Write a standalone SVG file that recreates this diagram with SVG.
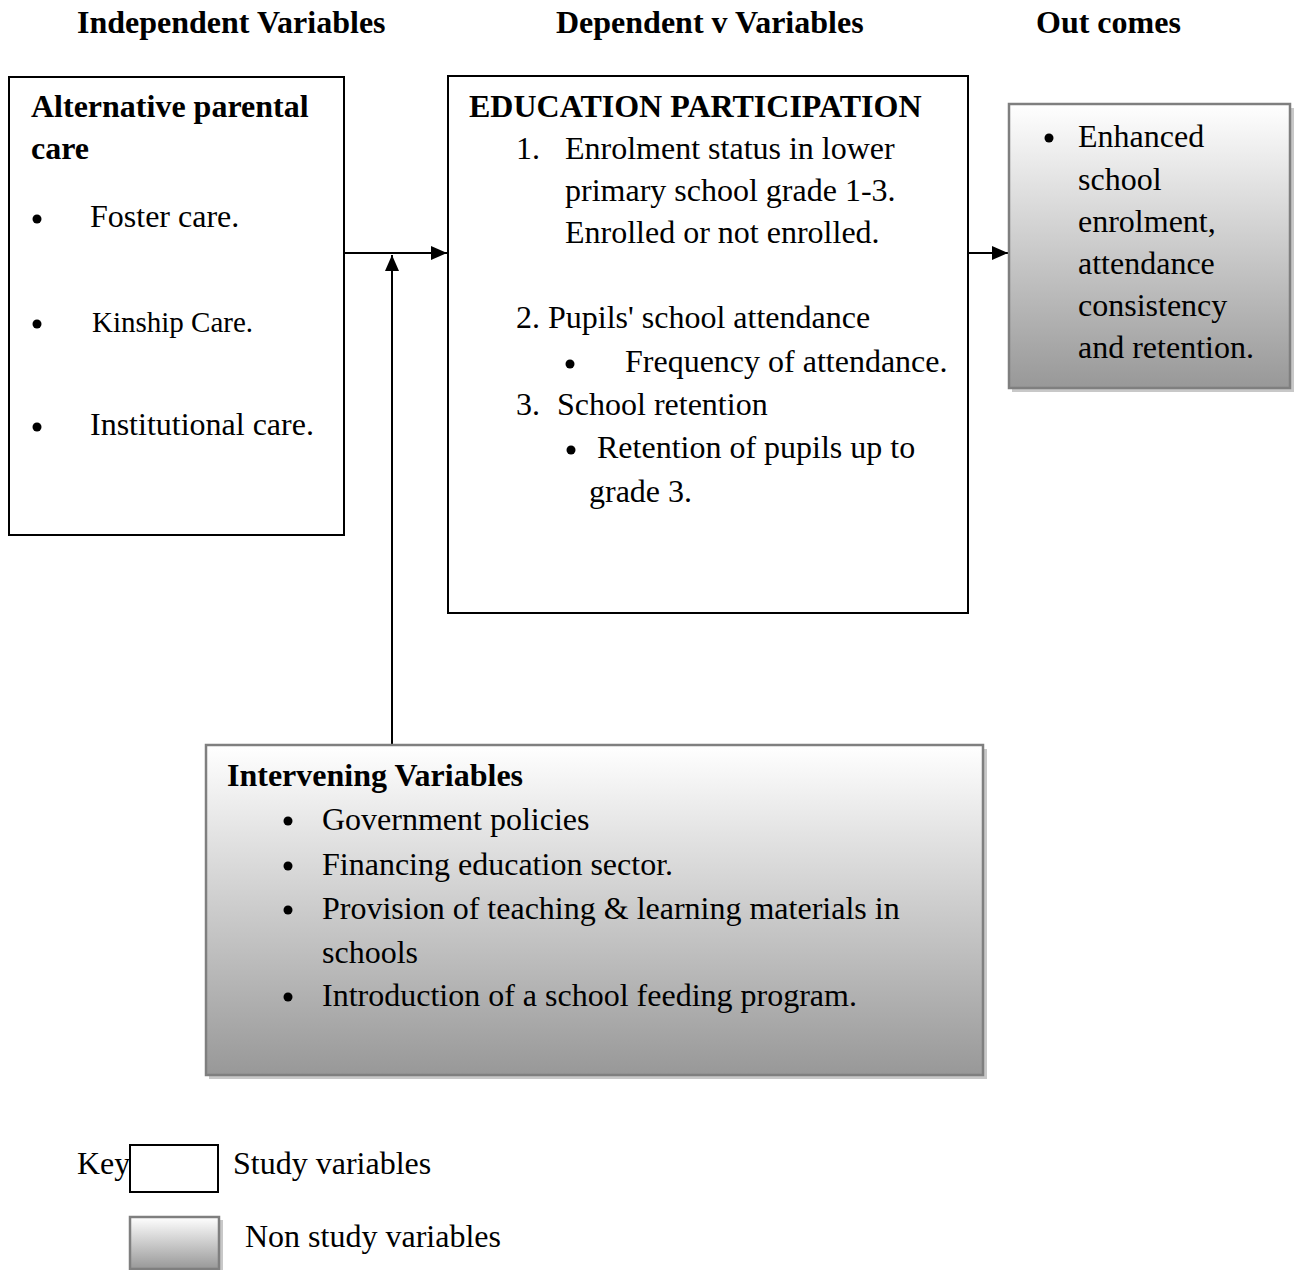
<svg xmlns="http://www.w3.org/2000/svg" width="1296" height="1270" viewBox="0 0 1296 1270">
<style>
text{font-family:"Liberation Serif","Times New Roman",serif;font-size:32px;fill:#000}
.b{font-weight:bold}
.k{font-size:29px}
.study{fill:#fff;stroke:#000;stroke-width:2}
.non{fill:url(#g);stroke:#7f7f7f;stroke-width:2.5}
.sh{fill:#c8c8c8}
.ln{stroke:#000;stroke-width:2;fill:none}
.dot{fill:#000}
</style>
<defs>
<linearGradient id="g" x1="0" y1="0" x2="0" y2="1">
<stop offset="0" stop-color="#ffffff"/>
<stop offset="1" stop-color="#989898"/>
</linearGradient>
<marker id="ah" viewBox="0 0 16 14" refX="16" refY="7" markerWidth="16" markerHeight="14" markerUnits="userSpaceOnUse" orient="auto">
<path d="M0,0 L16,7 L0,14 Z" fill="#000"/>
</marker>
</defs>

<g id="headers">
<text class="b" x="77" y="33">Independent Variables</text>
<text class="b" x="556" y="33">Dependent v Variables</text>
<text class="b" x="1036" y="33">Out comes</text>
</g>

<g id="connectors">
<line class="ln" x1="345" y1="253" x2="447" y2="253" marker-end="url(#ah)"/>
<line class="ln" x1="392" y1="745" x2="392" y2="255" marker-end="url(#ah)"/>
<line class="ln" x1="968" y1="253" x2="1008" y2="253" marker-end="url(#ah)"/>
</g>

<g id="independent">
<rect class="study" x="9" y="77" width="335" height="458"/>
<text class="b" x="31" y="117">Alternative parental</text>
<text class="b" x="31" y="159">care</text>
<circle class="dot" cx="37" cy="219" r="4.5"/>
<text x="90" y="227">Foster care.</text>
<circle class="dot" cx="37" cy="324" r="4.5"/>
<text class="k" x="92" y="332">Kinship Care.</text>
<circle class="dot" cx="37" cy="427" r="4.5"/>
<text x="90" y="435">Institutional care.</text>
</g>

<g id="dependent">
<rect class="study" x="448" y="76" width="520" height="537"/>
<text class="b" x="469" y="117">EDUCATION PARTICIPATION</text>
<text x="516" y="159">1.</text>
<text x="565" y="159">Enrolment status in lower</text>
<text x="565" y="201">primary school grade 1-3.</text>
<text x="565" y="243">Enrolled or not enrolled.</text>
<text x="516" y="328">2. Pupils' school attendance</text>
<circle class="dot" cx="570" cy="364" r="4.5"/>
<text x="625" y="372">Frequency of attendance.</text>
<text x="516" y="415">3.</text>
<text x="557" y="415">School retention</text>
<circle class="dot" cx="571" cy="450" r="4.5"/>
<text x="597" y="458">Retention of pupils up to</text>
<text x="589" y="502">grade 3.</text>
</g>

<g id="outcomes">
<rect class="sh" x="1012" y="108" width="282" height="284"/>
<rect class="non" x="1009" y="104" width="281" height="284"/>
<circle class="dot" cx="1049" cy="138" r="4.5"/>
<text x="1078" y="147">Enhanced</text>
<text x="1078" y="190">school</text>
<text x="1078" y="232">enrolment,</text>
<text x="1078" y="274">attendance</text>
<text x="1078" y="316">consistency</text>
<text x="1078" y="358">and retention.</text>
</g>

<g id="intervening">
<rect class="sh" x="209" y="749" width="778" height="330"/>
<rect class="non" x="206" y="745" width="777" height="330"/>
<text class="b" x="227" y="786">Intervening Variables</text>
<circle class="dot" cx="288" cy="821" r="4.5"/>
<text x="322" y="830">Government policies</text>
<circle class="dot" cx="288" cy="866" r="4.5"/>
<text x="322" y="875">Financing education sector.</text>
<circle class="dot" cx="288" cy="910" r="4.5"/>
<text x="322" y="919">Provision of teaching &amp; learning materials in</text>
<text x="322" y="963">schools</text>
<circle class="dot" cx="288" cy="997" r="4.5"/>
<text x="322" y="1006">Introduction of a school feeding program.</text>
</g>

<g id="key">
<text x="77" y="1174">Key</text>
<rect class="study" x="130" y="1145" width="88" height="47" stroke-width="1.5"/>
<text x="233" y="1174">Study variables</text>
<rect class="sh" x="133" y="1220" width="90" height="52"/>
<rect class="non" x="130" y="1217" width="89" height="52"/>
<text x="245" y="1247">Non study variables</text>
</g>
</svg>
